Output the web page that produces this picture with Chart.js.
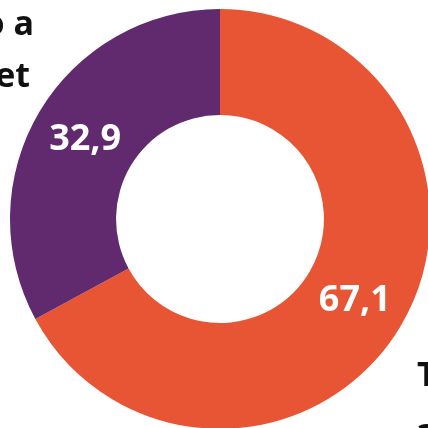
<!DOCTYPE html>
<html>
<head>
<meta charset="utf-8">
<script src="https://cdn.jsdelivr.net/npm/chart.js@4/dist/chart.umd.min.js"></script>
<style>
  html, body { margin: 0; padding: 0; width: 428px; height: 428px; overflow: hidden; background: #ffffff; }
  #wrap { position: absolute; left: 10px; top: 9px; width: 420px; height: 420px; }
  .note { position: absolute; font-family: "Open Sans", sans-serif; font-weight: 700; font-size: 34px; color: #111111; white-space: nowrap; line-height: 1; }
</style>
</head>
<body>
<div id="wrap"><canvas id="c" width="420" height="420"></canvas></div>
<div class="note" style="right:394px; top:5px;">o a</div>
<div class="note" style="right:398px; top:57px;">et</div>
<div class="note" style="left:417px; top:356px;">T</div>
<div class="note" style="left:417px; top:418px;">3</div>
<script>
// Share of respondents (%), clockwise from 12 o'clock
const categories = ["A", "B"];
const shares = [67.1, 32.9];
const shareLabels = ["67,1", "32,9"];
const sliceColors = ["#E85535", "#612A6F"];

// Writes each share in the middle of its ring segment
const sliceValueLabels = {
  id: "sliceValueLabels",
  afterDatasetsDraw(chart) {
    const ctx = chart.ctx;
    const meta = chart.getDatasetMeta(0);
    ctx.save();
    ctx.fillStyle = "#ffffff";
    ctx.font = "700 36px 'Open Sans', sans-serif";
    ctx.textAlign = "center";
    ctx.textBaseline = "middle";
    meta.data.forEach((arc, i) => {
      const p = arc.tooltipPosition();
      ctx.fillText(shareLabels[i], p.x, p.y + 1);
    });
    ctx.restore();
  }
};

new Chart(document.getElementById("c"), {
  type: "doughnut",
  data: {
    labels: categories,
    datasets: [{
      data: shares,
      backgroundColor: sliceColors,
      borderWidth: 0,
      hoverOffset: 0
    }]
  },
  options: {
    responsive: false,
    animation: false,
    cutout: "49.5%",
    layout: { padding: 0 },
    plugins: {
      legend: { display: false },
      tooltip: { enabled: false }
    }
  },
  plugins: [sliceValueLabels]
});
</script>
</body>
</html>
